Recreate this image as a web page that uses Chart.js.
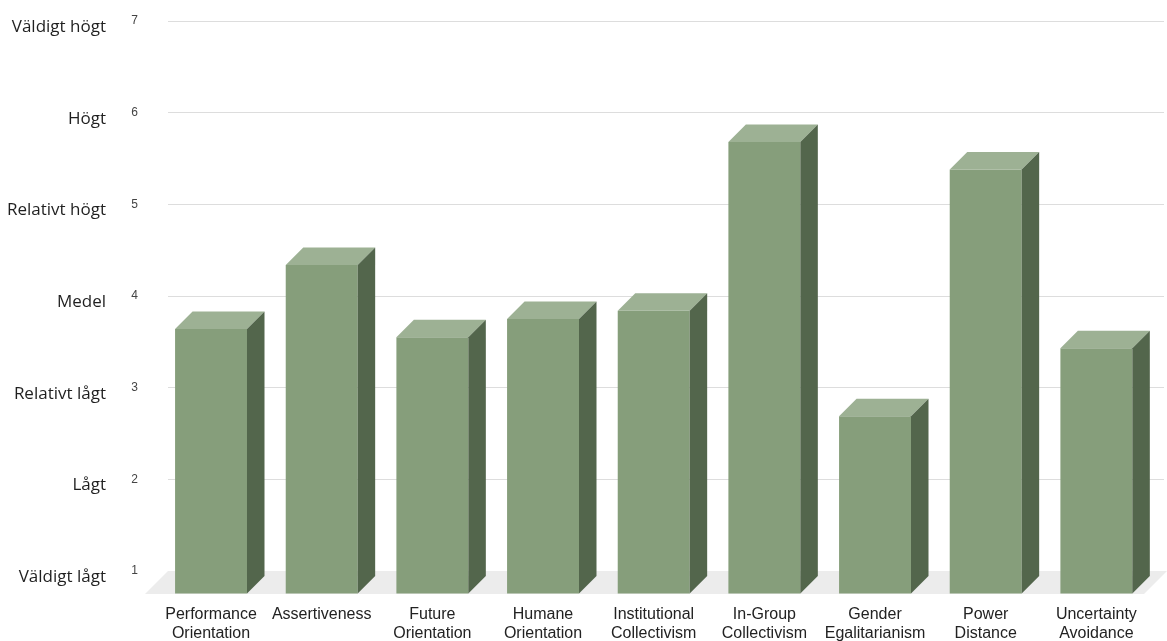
<!DOCTYPE html>
<html>
<head>
<meta charset="utf-8">
<script src="https://cdn.jsdelivr.net/npm/chart.js@4/dist/chart.umd.min.js"></script>
<style>
  html, body { margin: 0; padding: 0; background: #fff; }
  #wrap { width: 1167px; height: 641px; position: relative; }
</style>
</head>
<body>
<div id="wrap"><canvas id="chart"></canvas></div>
<script>
const categories = [
  ['Performance', 'Orientation'], 'Assertiveness', ['Future', 'Orientation'],
  ['Humane', 'Orientation'], ['Institutional', 'Collectivism'], ['In-Group', 'Collectivism'],
  ['Gender', 'Egalitarianism'], ['Power', 'Distance'], ['Uncertainty', 'Avoidance']
];
const scores = [3.89, 4.59, 3.80, 4.00, 4.09, 5.93, 2.94, 5.63, 3.68];
const yTicks = [1, 2, 3, 4, 5, 6, 7];
const levelLabels = ['Väldigt lågt', 'Lågt', 'Relativt lågt', 'Medel', 'Relativt högt', 'Högt', 'Väldigt högt'];

const FLOOR = 23;      // floor depth (px)
const DEPTH = 17.5;    // bar depth (px)
const SHIFT_X = -12.3; // bars sit in front of the back wall

const bar3d = {
  id: 'bar3d',
  beforeDatasetsDraw(chart) {
    const { ctx, chartArea: a } = chart;
    ctx.save();
    ctx.fillStyle = '#ececec';
    ctx.beginPath();
    ctx.moveTo(a.left, a.bottom);
    ctx.lineTo(chart.width, a.bottom);
    ctx.lineTo(chart.width - FLOOR, a.bottom + FLOOR);
    ctx.lineTo(a.left - FLOOR, a.bottom + FLOOR);
    ctx.closePath();
    ctx.fill();
    ctx.restore();
    ctx.save();
    ctx.translate(SHIFT_X, FLOOR);
  },
  afterDatasetsDraw(chart) {
    const ctx = chart.ctx;
    chart.getDatasetMeta(0).data.forEach(bar => {
      const { x, y, base, width } = bar.getProps(['x', 'y', 'base', 'width'], true);
      const l = x - width / 2, r = x + width / 2;
      // top face
      ctx.fillStyle = '#9db194';
      ctx.beginPath();
      ctx.moveTo(l, y);
      ctx.lineTo(l + DEPTH, y - DEPTH);
      ctx.lineTo(r + DEPTH, y - DEPTH);
      ctx.lineTo(r, y);
      ctx.closePath();
      ctx.fill();
      // side face
      ctx.fillStyle = '#53664c';
      ctx.beginPath();
      ctx.moveTo(r, y);
      ctx.lineTo(r + DEPTH, y - DEPTH);
      ctx.lineTo(r + DEPTH, base - DEPTH);
      ctx.lineTo(r, base);
      ctx.closePath();
      ctx.fill();
    });
    ctx.restore();
  },
  afterDraw(chart) {
    const { ctx } = chart;
    const ys = chart.scales.y;
    ctx.save();
    ctx.font = '17px "Open Sans"';
    ctx.fillStyle = '#1f1f1f';
    ctx.textAlign = 'right';
    ctx.textBaseline = 'middle';
    yTicks.forEach((v, i) => {
      ctx.fillText(levelLabels[i], 106, ys.getPixelForValue(v) + 6);
    });
    ctx.restore();
  }
};

new Chart(document.getElementById('chart'), {
  type: 'bar',
  data: {
    labels: categories,
    datasets: [{
      data: scores,
      base: 1,
      backgroundColor: '#869e7b',
      borderWidth: 0,
      barPercentage: 0.65,
      categoryPercentage: 1,
      clip: false
    }]
  },
  options: {
    responsive: true,
    maintainAspectRatio: false,
    animation: false,
    layout: { padding: { top: 21, right: 3, bottom: 0, left: 0 } },
    plugins: { legend: { display: false }, tooltip: { enabled: false } },
    scales: {
      x: {
        grid: { display: true, drawOnChartArea: false, drawTicks: true, tickLength: 34, tickColor: 'rgba(0,0,0,0)' },
        border: { display: false },
        ticks: {
          font: { family: '"Liberation Sans", Arial', size: 16 },
          color: '#222',
          padding: 0,
          labelOffset: SHIFT_X,
          maxRotation: 0,
          autoSkip: false
        },
        afterFit(scale) { scale.height = 70; }
      },
      y: {
        min: 1,
        max: 7,
        afterBuildTicks(scale) { scale.ticks = yTicks.map(v => ({ value: v })); },
        grid: { color: '#dddddd', drawTicks: true, tickLength: 30, tickColor: 'rgba(0,0,0,0)' },
        border: { display: false },
        ticks: {
          font: { family: '"Liberation Sans", Arial', size: 12 },
          color: '#444',
          padding: 0
        },
        afterFit(scale) { scale.width = 168; }
      }
    }
  },
  plugins: [bar3d]
});
</script>
</body>
</html>
